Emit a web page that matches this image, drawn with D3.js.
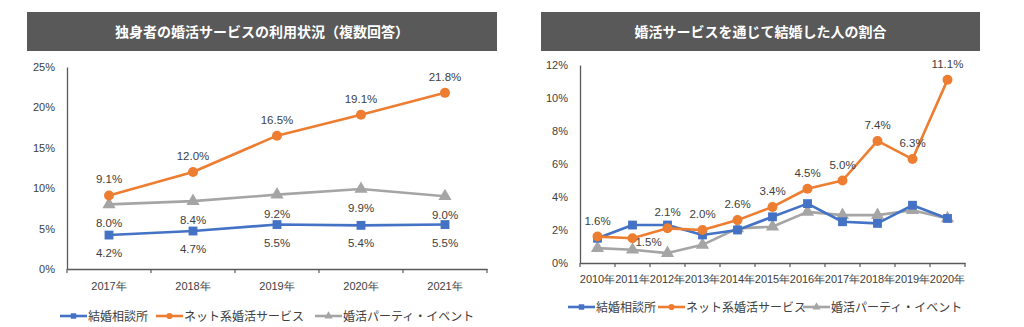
<!DOCTYPE html>
<html>
<head>
<meta charset="utf-8">
<script src="https://cdn.jsdelivr.net/npm/d3@7"></script>
<style>
  body { margin: 0; background: #fff; }
  svg { display: block; font-family: "Noto Sans CJK JP", "Noto Sans", sans-serif; }
</style>
</head>
<body>
<svg id="chart" width="1024" height="327"></svg>
<script>
// left chart data
const years1 = ["2017年", "2018年", "2019年", "2020年", "2021年"];
const soudan1 = [4.2, 4.7, 5.5, 5.4, 5.5];
const net1 = [9.1, 12.0, 16.5, 19.1, 21.8];
const party1 = [8.0, 8.4, 9.2, 9.9, 9.0];
const ticks1 = [0, 5, 10, 15, 20, 25];

// right chart data
const years2 = ["2010年", "2011年", "2012年", "2013年", "2014年", "2015年", "2016年", "2017年", "2018年", "2019年", "2020年"];
const soudan2 = [1.5, 2.3, 2.3, 1.7, 2.0, 2.8, 3.6, 2.5, 2.4, 3.5, 2.7];
const net2 = [1.6, 1.5, 2.1, 2.0, 2.6, 3.4, 4.5, 5.0, 7.4, 6.3, 11.1];
const party2 = [0.9, 0.8, 0.6, 1.1, 2.1, 2.2, 3.1, 2.9, 2.9, 3.2, 2.7];
const ticks2 = [0, 2, 4, 6, 8, 10, 12];

const seriesNames = ["結婚相談所", "ネット系婚活サービス", "婚活パーティ・イベント"];
const colors = ["#4472c4", "#ed7d31", "#a5a5a5"];
const markers = [d3.symbolSquare, d3.symbolCircle, d3.symbolTriangle];
const axisColor = "#595959", textColor = "#404040";

const svg = d3.select("#chart");

function drawChart(cfg) {
    const g = svg.append("g");
    // title bar
    g.append("rect")
        .attr("x", cfg.title.x).attr("y", 12)
        .attr("width", cfg.title.w).attr("height", 39)
        .attr("fill", "#595959");
    g.append("text")
        .attr("x", cfg.title.x + cfg.title.w / 2).attr("y", 37)
        .attr("text-anchor", "middle")
        .attr("fill", "#fff")
        .attr("font-size", 14).attr("font-weight", "bold")
        .text(cfg.title.text);

    const x = d3.scaleBand().domain(cfg.cats).range([cfg.x0, cfg.x1]);
    const y = d3.scaleLinear().domain([0, d3.max(cfg.ticks)]).range([cfg.y0, cfg.y1]);

    // y axis
    const yAxis = g.append("g")
        .attr("transform", "translate(" + cfg.x0 + ",0)")
        .call(d3.axisLeft(y).tickValues(cfg.ticks).tickSize(0).tickPadding(12).tickFormat(d => d + "%"));
    yAxis.select(".domain").attr("stroke", axisColor).attr("stroke-width", 1.3);
    yAxis.selectAll("text").attr("fill", textColor).attr("font-size", 11)
        .attr("font-family", "'Liberation Sans', sans-serif");

    // x axis
    const xAxis = g.append("g")
        .attr("transform", "translate(0," + cfg.y0 + ")")
        .call(d3.axisBottom(x).tickSize(0).tickPadding(cfg.xPad));
    xAxis.select(".domain").attr("stroke", axisColor).attr("stroke-width", 1.3);
    xAxis.selectAll("text").attr("fill", textColor).attr("font-size", cfg.xFont);
    // category boundary ticks
    g.selectAll(".btick")
        .data(d3.range(cfg.cats.length + 1))
        .enter().append("line")
        .attr("x1", i => cfg.x0 + i * x.step()).attr("x2", i => cfg.x0 + i * x.step())
        .attr("y1", cfg.y0).attr("y2", cfg.y0 + 4)
        .attr("stroke", axisColor).attr("stroke-width", 1.2);

    const cx = d => x(d) + x.bandwidth() / 2;
    const line = vals => d3.line().x((v, i) => cx(cfg.cats[i])).y(v => y(v))(vals);

    // draw in order: gray, blue, orange on top
    [2, 0, 1].forEach(si => {
        const vals = cfg.series[si];
        g.append("path")
            .attr("d", line(vals))
            .attr("fill", "none")
            .attr("stroke", colors[si])
            .attr("stroke-width", 2.6)
            .attr("stroke-linejoin", "round");
        g.selectAll(".m" + si)
            .data(vals)
            .enter().append("path")
            .attr("transform", (v, i) => "translate(" + cx(cfg.cats[i]) + "," + y(v) + ")")
            .attr("d", d3.symbol().type(markers[si]).size(si === 2 ? 75 : 78))
            .attr("fill", colors[si]);
    });

    // data labels
    cfg.labels.forEach(lb => {
        const vals = cfg.series[lb.s];
        g.selectAll(".l" + lb.s)
            .data(vals)
            .enter().append("text")
            .attr("x", (v, i) => cx(cfg.cats[i]) + (lb.dx ? lb.dx(i) : 0))
            .attr("y", (v, i) => y(v) + lb.dy(i))
            .attr("text-anchor", "middle")
            .attr("fill", textColor)
            .attr("font-size", 11.5)
            .attr("font-family", "'Liberation Sans', sans-serif")
            .text(v => v.toFixed(1) + "%");
    });

    // legend
    const lg = g.append("g").attr("transform", "translate(0," + cfg.legend.y + ")");
    cfg.legend.x.forEach((lx, si) => {
        lg.append("line")
            .attr("x1", lx).attr("x2", lx + 27)
            .attr("stroke", colors[si]).attr("stroke-width", 2.6);
        lg.append("path")
            .attr("transform", "translate(" + (lx + 13.5) + ",0)")
            .attr("d", d3.symbol().type(markers[si]).size(30))
            .attr("fill", colors[si]);
        lg.append("text")
            .attr("x", lx + 28).attr("y", 4.5)
            .attr("fill", textColor)
            .attr("font-size", 12)
            .text(seriesNames[si]);
    });
}

drawChart({
    title: { x: 27, w: 470, text: "独身者の婚活サービスの利用状況（複数回答）" },
    cats: years1, ticks: ticks1,
    x0: 67, x1: 487, y0: 269, y1: 67,
    xPad: 13, xFont: 11,
    series: [soudan1, net1, party1],
    labels: [
        { s: 1, dy: () => -12 },
        { s: 2, dy: () => 23 },
        { s: 0, dy: () => 22 }
    ],
    legend: { y: 316, x: [60, 156, 315] }
});

drawChart({
    title: { x: 541, w: 439, text: "婚活サービスを通じて結婚した人の割合" },
    cats: years2, ticks: ticks2,
    x0: 580, x1: 965, y0: 263, y1: 65,
    xPad: 12, xFont: 11,
    series: [soudan2, net2, party2],
    labels: [
        { s: 1, dy: i => i === 1 ? 8 : -12, dx: i => i === 1 ? 16 : 0 }
    ],
    legend: { y: 307, x: [568, 658, 803] }
});
</script>
</body>
</html>
